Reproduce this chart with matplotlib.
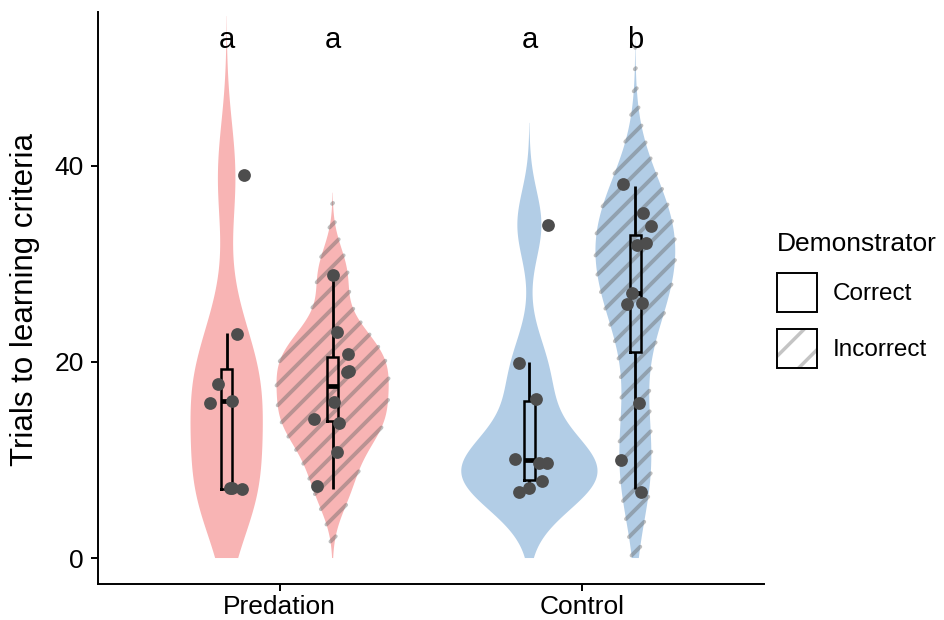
import numpy as np
import matplotlib
matplotlib.use('Agg')
import matplotlib.pyplot as plt
from matplotlib.patches import Polygon, Patch
from matplotlib.legend_handler import HandlerTuple

plt.rcParams['font.family'] = ['Liberation Sans', 'DejaVu Sans']
plt.rcParams['hatch.linewidth'] = 2.5

# ---------------- data ----------------
categories = ['Predation', 'Control']
demonstrators = ['Correct', 'Incorrect']
sig_letters = ['a', 'a', 'a', 'b']   # Pred-Correct, Pred-Incorrect, Ctrl-Correct, Ctrl-Incorrect

pred_correct = [39.1, 22.9, 17.8, 15.8, 16.0, 7.1, 7.0, 7.1]
pred_correct_jit = [0.057, 0.034, -0.028, -0.055, 0.018, 0.018, 0.051, 0.010]

pred_incorrect = [28.9, 23.1, 20.8, 19.0, 19.1, 15.9, 14.2, 13.8, 10.8, 7.3]
pred_incorrect_jit = [0.000, 0.014, 0.051, 0.047, 0.053, 0.005, -0.061, 0.021, 0.014, -0.053]

ctrl_correct = [34.0, 19.9, 16.2, 10.1, 9.7, 9.7, 7.9, 6.7, 7.1]
ctrl_correct_jit = [0.062, -0.034, 0.022, -0.048, 0.032, 0.058, 0.042, -0.034, -0.001]

ctrl_incorrect = [38.2, 35.2, 33.9, 31.9, 32.1, 27.0, 25.9, 26.0, 15.8, 10.0, 6.7]
ctrl_incorrect_jit = [-0.041, 0.025, 0.052, 0.005, 0.034, -0.012, -0.026, 0.021, 0.012, -0.047, 0.019]

group_values = [pred_correct, pred_incorrect, ctrl_correct, ctrl_incorrect]
group_jitter = [pred_correct_jit, pred_incorrect_jit, ctrl_correct_jit, ctrl_incorrect_jit]
group_cat = [0, 0, 1, 1]
group_dem = [0, 1, 0, 1]

# ---------------- style ----------------
fill_colors = ['#F8B4B4', '#B2CDE6']
stripe_color = '#646464'
stripe_alpha = 0.42
point_color = '#4D4D4D'
W, H = 944, 620
DPI = 100

fig = plt.figure(figsize=(W / DPI, H / DPI), dpi=DPI)
ax = fig.add_axes([98 / W, 1 - 584 / H, (764 - 98) / W, (584 - 12) / H])
ax.set_xlim(0.4, 2.6)
ax.set_ylim(-2.65, 55.7)

dodge = 0.175
violin_width = 0.45
box_width = 0.0375


def bw_nrd0(x):
    x = np.asarray(x, float)
    sd = np.std(x, ddof=1)
    iqr = np.percentile(x, 75) - np.percentile(x, 25)
    lo = min(sd, iqr / 1.34)
    return 0.9 * lo * len(x) ** -0.2


def kde(x, grid, bw):
    x = np.asarray(x, float)
    z = (grid[:, None] - x[None, :]) / bw
    return np.exp(-0.5 * z ** 2).sum(axis=1) / (len(x) * bw * np.sqrt(2 * np.pi))


# densities
dens = []
for vals in group_values:
    v = np.round(vals)
    bw = bw_nrd0(v)
    lo, hi = v.min() - 3 * bw, v.max() + 3 * bw
    grid = np.linspace(lo, hi, 512)
    grid = grid[grid >= 0]
    if lo < 0:
        grid = np.concatenate([[0.0], grid])
    dens.append((grid, kde(v, grid, bw)))
dmax = max(d.max() for _, d in dens)


def draw_stripes(xs, ys, spacing=21.0):
    pts = ax.transData.transform(np.column_stack([xs, ys]))
    d = pts[:, 1] - pts[:, 0]
    n = len(pts)
    inv = ax.transData.inverted()
    for k in range(int(np.ceil(d.min() / spacing)), int(np.floor(d.max() / spacing)) + 1):
        c = k * spacing
        f = d - c
        inter = []
        for i in range(n):
            j = (i + 1) % n
            if (f[i] < 0) != (f[j] < 0):
                t = f[i] / (f[i] - f[j])
                inter.append(pts[i] + t * (pts[j] - pts[i]))
        if len(inter) < 2:
            continue
        inter = sorted(inter, key=lambda p: p[0])
        for a in range(0, len(inter) - 1, 2):
            seg = inv.transform(np.array([inter[a], inter[a + 1]]))
            ax.plot(seg[:, 0], seg[:, 1], color=stripe_color, alpha=stripe_alpha,
                    lw=2.8, solid_capstyle='round', zorder=2)


for g, vals in enumerate(group_values):
    center = group_cat[g] + 1 + (dodge if group_dem[g] == 1 else -dodge)
    grid, d = dens[g]
    half = d / dmax * violin_width / 2
    xs = np.concatenate([center - half, (center + half)[::-1]])
    ys = np.concatenate([grid, grid[::-1]])
    ax.add_patch(Polygon(np.column_stack([xs, ys]), closed=True,
                         facecolor=fill_colors[group_cat[g]], edgecolor='none', zorder=1))
    if group_dem[g] == 1:
        draw_stripes(xs, ys)

    # boxplot
    v = np.round(vals)
    q1, med, q3 = np.percentile(v, [25, 50, 75])
    iqr = q3 - q1
    wlo = v[v >= q1 - 1.5 * iqr].min()
    whi = v[v <= q3 + 1.5 * iqr].max()
    bx0, bx1 = center - box_width / 2, center + box_width / 2
    ax.plot([center, center], [q3, whi], color='black', lw=2.0, zorder=3, solid_capstyle='butt')
    ax.plot([center, center], [wlo, q1], color='black', lw=2.0, zorder=3, solid_capstyle='butt')
    ax.plot([bx0, bx1, bx1, bx0, bx0], [q1, q1, q3, q3, q1], color='black', lw=1.8,
            zorder=3, solid_joinstyle='miter')
    ax.plot([bx0, bx1], [med, med], color='black', lw=3.4, zorder=3, solid_capstyle='butt')

    # points
    ax.plot(center + np.asarray(group_jitter[g]), vals, 'o', color=point_color,
            markersize=9.2, markeredgewidth=0, zorder=4)

    ax.text(center, 52.0, sig_letters[g], ha='center', va='baseline', fontsize=21, zorder=5)

# axes styling
for s in ['top', 'right']:
    ax.spines[s].set_visible(False)
for s in ['left', 'bottom']:
    ax.spines[s].set_linewidth(1.4)
ax.set_xticks([1, 2])
ax.set_xticklabels(categories)
ax.set_yticks([0, 20, 40])
ax.tick_params(axis='both', length=5, width=1.4, labelsize=19, colors='black')
ax.tick_params(axis='y', pad=5)
ax.tick_params(axis='x', pad=3)

fig.text(25 / W, 1 - 300 / H, 'Trials to learning criteria', rotation=90,
         ha='center', va='center', fontsize=22.5)

# legend
h_correct = Patch(facecolor='white', edgecolor='black', lw=1.4)
h_incorrect = (Patch(facecolor='white', edgecolor='#C4C4C4', hatch='/', lw=0),
               Patch(facecolor='none', edgecolor='black', lw=1.4))
leg = fig.legend([h_correct, h_incorrect], demonstrators,
                 handler_map={tuple: HandlerTuple(ndivide=1, pad=0)},
                 title='Demonstrator', loc='upper left',
                 bbox_to_anchor=(777 / W, 1 - 232 / H), frameon=False,
                 fontsize=17.5, title_fontsize=19, handlelength=1.65, handleheight=2.08,
                 labelspacing=0.7, handletextpad=0.65, borderpad=0, borderaxespad=0,
                 alignment='left')

fig.savefig('out.png', dpi=DPI)
